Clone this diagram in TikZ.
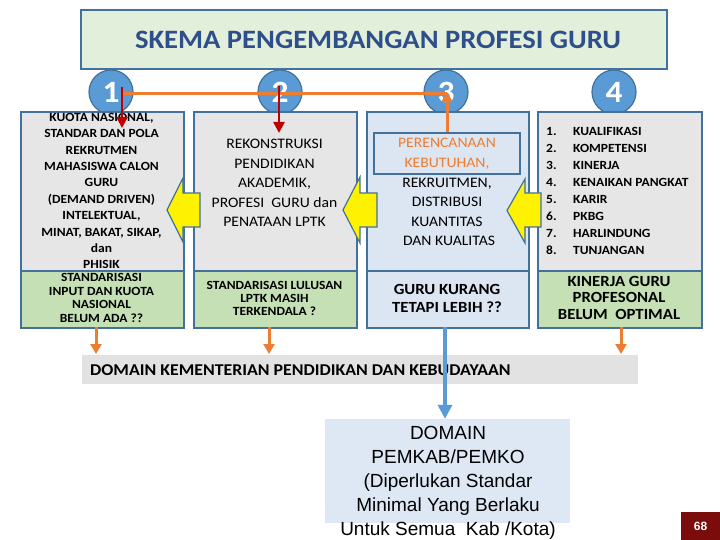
\documentclass[tikz,border=0pt]{standalone}
\usepackage{fontspec}
\setmainfont{Carlito}[FakeStretch=1.08]
\newfontfamily\arialf{Liberation Sans}
\usetikzlibrary{arrows.meta}
\definecolor{bord}{HTML}{41719C}
\definecolor{titlefill}{HTML}{E2EFDA}
\definecolor{grayfill}{HTML}{E6E6E6}
\definecolor{greenfill}{HTML}{C5E0B4}
\definecolor{bluefill}{HTML}{DCE6F2}
\definecolor{circfill}{HTML}{5B9BD5}
\definecolor{redarr}{HTML}{C00000}
\definecolor{orangearr}{HTML}{ED7D31}
\definecolor{bluearr}{HTML}{5B9BD5}
\definecolor{barfill}{HTML}{E2E2E2}
\definecolor{botfill}{HTML}{DDE8F4}
\definecolor{pgred}{HTML}{7B0C0C}
\definecolor{titletext}{HTML}{2E4F8C}
\tikzset{
  rbox/.style={draw=bord, line width=1.8pt, inner sep=0pt, anchor=north west},
  topbox/.style={rbox, fill=grayfill, minimum width=163pt, minimum height=159pt},
  botbox/.style={rbox, fill=greenfill, minimum width=163pt, minimum height=57pt},
  circ/.style={circle, draw=bord, line width=1.2pt, fill=circfill, minimum size=44pt, inner sep=0pt,
    text=white, font=\fontsize{31}{31}\selectfont\bfseries},
  txt/.style={inner sep=0pt, align=center},
  redarrow/.style={draw=redarr, line width=2.5pt, -{Triangle[length=11pt,width=11pt]}},
  orline/.style={draw=orangearr, line width=3pt},
  orarrow/.style={draw=orangearr, line width=3pt, -{Triangle[length=10pt,width=11pt]}},
  bluearrow/.style={draw=bluearr, line width=4pt, -{Triangle[length=14pt,width=14pt]}},
  yarrow/.style={draw=bord, line width=1.2pt, fill=yellow, line join=miter},
}
\begin{document}
\begin{tikzpicture}[x=1pt,y=-1pt]
\useasboundingbox (0,0) rectangle (720,540);
% title
\node[rbox, fill=titlefill, minimum width=586pt, minimum height=59pt] (title) at (80,9) {};
\node[txt, text=titletext, font=\fontsize{26.5}{28}\selectfont\bfseries] (titletxt) at (378,40) {SKEMA PENGEMBANGAN PROFESI GURU};
% circles
\node[circ] (c1) at (111,92) {1};
\node[circ] (c2) at (280,92) {2};
\node[circ] (c3) at (446,92) {3};
\node[circ] (c4) at (614,92) {4};
% orange line across
\coordinate (o1) at (123,94);
\coordinate (o3) at (447,94);
\draw[orline] (o1) -- (o3);
% top boxes
\node[topbox] (b1) at (20,111) {};
\node[topbox] (b2) at (193,111) {};
\node[topbox, fill=bluefill, minimum width=162pt] (b3) at (366,111) {};
\node[topbox, minimum width=164pt] (b4) at (537,111) {};
% box 1 text
\node[txt, font=\fontsize{12.5}{16.4}\selectfont\bfseries] (t1) at (101.5,191)
 {KUOTA NASIONAL,\\STANDAR DAN POLA\\REKRUTMEN\\MAHASISWA CALON\\GURU\\(DEMAND DRIVEN)\\INTELEKTUAL,\\MINAT, BAKAT, SIKAP,\\dan\\PHISIK};
% box 2 text
\node[txt, font=\fontsize{14.5}{19.5}\selectfont] (t2) at (274.5,183)
 {REKONSTRUKSI\\PENDIDIKAN\\AKADEMIK,\\PROFESI~~GURU dan\\PENATAAN LPTK};
% box 3 inner and text
\node[draw=bord, line width=1.8pt, fill=bluefill, minimum width=146pt, minimum height=41pt, inner sep=0pt,
  align=center, text=orangearr, font=\fontsize{14.5}{19.5}\selectfont] (inner) at (447,153.5)
 {PERENCANAAN\\KEBUTUHAN,};
\node[txt, font=\fontsize{14.5}{19.5}\selectfont] (t3) at (447,212)
 {REKRUITMEN,\\DISTRIBUSI\\KUANTITAS\\\hspace*{4pt}DAN KUALITAS};
% box 4 list
\node[inner sep=0pt, align=left, anchor=west, font=\fontsize{12.5}{16.9}\selectfont\bfseries] (l4n) at (546,191)
 {1.\\2.\\3.\\4.\\5.\\6.\\7.\\8.};
\node[inner sep=0pt, align=left, anchor=west, font=\fontsize{12.5}{16.9}\selectfont\bfseries] (l4t) at (573,191)
 {KUALIFIKASI\\KOMPETENSI\\KINERJA\\KENAIKAN PANGKAT\\KARIR\\PKBG\\HARLINDUNG\\TUNJANGAN};
% bottom boxes
\node[botbox] (g1) at (20,270) {};
\node[botbox] (g2) at (193,270) {};
\node[botbox, fill=bluefill, minimum width=162pt] (g3) at (366,270) {};
\node[botbox, minimum width=164pt] (g4) at (537,270) {};
\node[txt, font=\fontsize{12.5}{13.6}\selectfont\bfseries] (s1) at (101.5,298)
 {STANDARISASI\\INPUT DAN KUOTA\\NASIONAL\\BELUM ADA ??};
\node[txt, font=\fontsize{12.5}{13}\selectfont\bfseries] (s2) at (274.5,298.5)
 {STANDARISASI LULUSAN\\LPTK MASIH\\TERKENDALA ?};
\node[txt, font=\fontsize{15.5}{17.5}\selectfont\bfseries] (s3) at (447,298.5)
 {GURU KURANG\\TETAPI LEBIH ??};
\node[txt, font=\fontsize{15.5}{16.5}\selectfont\bfseries] (s4) at (619,297.5)
 {KINERJA GURU\\PROFESONAL\\BELUM~~OPTIMAL};
% red arrows
\coordinate (r1s) at (122,87);
\coordinate (r1e) at (122,128);
\coordinate (r2s) at (279,86);
\coordinate (r2e) at (279,133);
\draw[redarrow] (r1s) -- (r1e);
\draw[redarrow] (r2s) -- (r2e);
% orange up arrow from inner box
\coordinate (o3t) at (447,92);
\draw[orarrow] (inner.north) -- (o3t);
% yellow block arrows
\draw[yarrow] (200,193) -- (183,193) -- (183,178) -- (167,210) -- (183,242) -- (183,227) -- (200,227) -- cycle;
\draw[yarrow] (377,193) -- (360,193) -- (360,177) -- (343,210) -- (360,243) -- (360,227) -- (377,227) -- cycle;
\draw[yarrow] (541,193) -- (525,193) -- (525,179) -- (507,210.5) -- (525,243) -- (525,227) -- (541,227) -- cycle;
% domain bar
\node[fill=barfill, minimum width=556pt, minimum height=29pt, inner sep=0pt] (bar) at (360,369.5) {};
\node[inner sep=0pt, anchor=west, font=\fontsize{16.5}{18}\selectfont\bfseries] (bartxt) at (90,370)
 {DOMAIN KEMENTERIAN PENDIDIKAN DAN KEBUDAYAAN};
% orange down arrows
\coordinate (d1s) at (96,327); \coordinate (d1e) at (96,354);
\coordinate (d2s) at (269,327); \coordinate (d2e) at (269,354);
\coordinate (d4s) at (621,327); \coordinate (d4e) at (621,354);
\draw[orarrow] (d1s) -- (d1e);
\draw[orarrow] (d2s) -- (d2e);
\draw[orarrow] (d4s) -- (d4e);
% bottom box
\node[fill=botfill, minimum width=245pt, minimum height=104pt, inner sep=0pt] (pem) at (447.5,471) {};
\coordinate (b3s) at (445,327);
\draw[bluearrow] (b3s) -- (pem.north -| b3s);
\node[txt, font=\arialf\fontsize{19}{24}\selectfont] (pemtxt) at (448,483)
 {DOMAIN\\PEMKAB/PEMKO\\(Diperlukan Standar\\Minimal Yang Berlaku\\Untuk Semua~~Kab /Kota)};
% page number
\node[fill=pgred, minimum width=39pt, minimum height=28pt, inner sep=0pt, text=white,
  font=\arialf\fontsize{12}{12}\selectfont\bfseries] (pg) at (700.5,526) {68};
\end{tikzpicture}
\end{document}
